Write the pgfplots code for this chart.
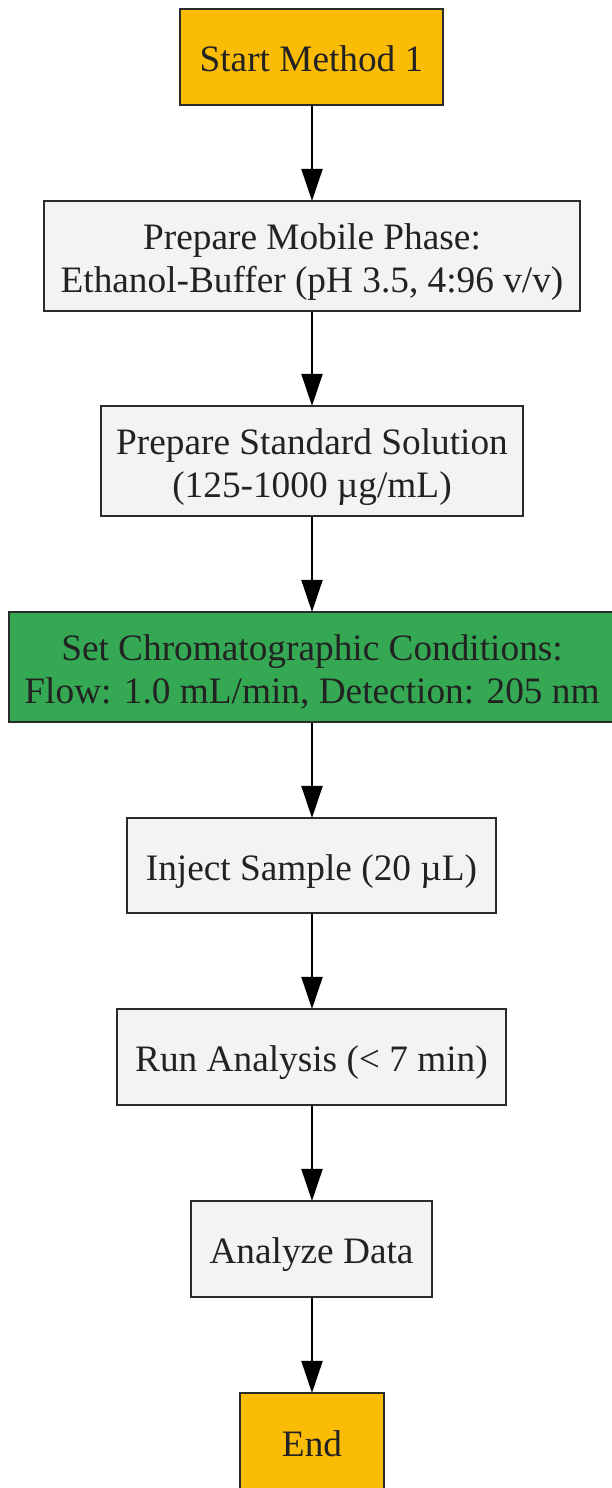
\documentclass[border=0pt]{standalone}
\usepackage{pgfplots}
\pgfplotsset{compat=1.18}
\usetikzlibrary{arrows.meta}
\usepackage{fontspec}
\setmainfont{Liberation Serif}
\definecolor{startc}{HTML}{FBBC05}
\definecolor{grayc}{HTML}{F1F3F4}
\definecolor{greenc}{HTML}{34A853}
\definecolor{edgec}{HTML}{2B2B2B}
\definecolor{txtc}{HTML}{222222}
\tikzset{flowtxt/.style={text=txtc, inner sep=0pt, anchor=base, font=\fontsize{37.3}{43}\selectfont}}
\newcommand{\boxshape}[5]{%
  \addplot[draw=edgec, line width=2pt, fill=#5, line join=miter] coordinates {(#1,#3) (#2,#3) (#2,#4) (#1,#4)} -- cycle;
}
\newcommand{\flowboxA}[6]{%
  \boxshape{#1}{#2}{#3}{#4}{#5}
  \node[flowtxt] at (axis cs:{(#1+#2)/2},{(#3+#4)/2-15}) {#6};
}
\newcommand{\flowboxB}[7]{%
  \boxshape{#1}{#2}{#3}{#4}{#5}
  \node[flowtxt] at (axis cs:{(#1+#2)/2},{(#3+#4)/2-15+21.5}) {#6};
  \node[flowtxt] at (axis cs:{(#1+#2)/2},{(#3+#4)/2-15-21.5}) {#7};
}
\newcommand{\flowarrow}[2]{%
  \addplot[black, line width=2pt, -{Triangle[length=32pt,width=21pt]}] coordinates {(312,#1) (312,#2)};
}
\begin{document}
\begin{tikzpicture}
\begin{axis}[width=612pt, height=1488pt, scale only axis, xmin=0, xmax=612, ymin=0, ymax=1488, hide axis, clip=false]
\coordinate (BL) at (axis cs:0,0);
\coordinate (TR) at (axis cs:612,1488);
\flowarrow{1383}{1287}
\flowarrow{1177}{1082}
\flowarrow{972}{876}
\flowarrow{766}{670}
\flowarrow{575}{479}
\flowarrow{383}{287}
\flowarrow{191}{95}
\flowboxA{180}{443}{1383}{1479}{startc}{Start Method 1}
\flowboxB{44}{580}{1177}{1287}{grayc}{Prepare Mobile Phase:}{Ethanol-Buffer (pH 3.5, 4:96 v/v)}
\flowboxB{101}{523}{972}{1082}{grayc}{Prepare Standard Solution}{(125-1000 µg/mL)}
\flowboxB{9}{615}{766}{876}{greenc}{Set Chromatographic Conditions:}{Flow: 1.0 mL/min, Detection: 205 nm}
\flowboxA{127}{496}{575}{670}{grayc}{Inject Sample (20 µL)}
\flowboxA{117}{506}{383}{479}{grayc}{Run Analysis (< 7 min)}
\flowboxA{191}{432}{191}{287}{grayc}{Analyze Data}
\flowboxA{240}{384}{-1}{95}{startc}{End}
\end{axis}
\pgfresetboundingbox
\path[use as bounding box] (BL) rectangle (TR);
\end{tikzpicture}
\end{document}
